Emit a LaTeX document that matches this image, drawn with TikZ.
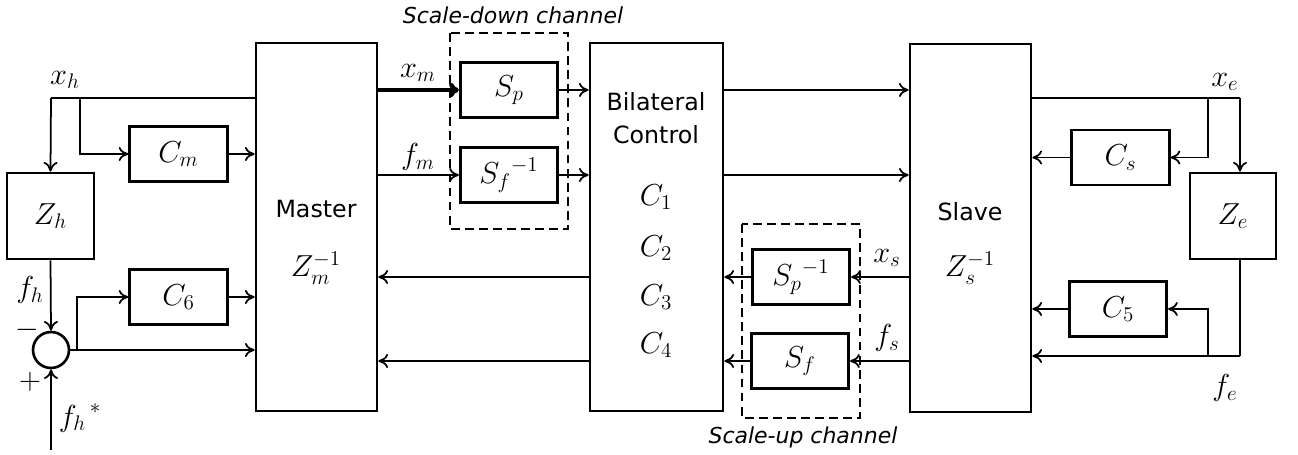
\documentclass[tikz,border=0pt]{standalone}
\usepackage{amsmath}
\usepackage{fontspec}
\setsansfont{DejaVu Sans}
\usetikzlibrary{arrows.meta, positioning}
\tikzstyle{bloque} = [draw, line width=1.6pt, rectangle, inner sep=0pt]
\tikzstyle{grande} = [bloque, minimum width=2.42cm, minimum height=7.36cm]
\tikzstyle{chico} = [bloque, minimum width=1.95cm, minimum height=1.1cm]
\tikzstyle{suma} = [draw, circle, line width=1.5pt, minimum size=0.72cm, inner sep=0pt]
\tikzstyle{canal} = [draw, dashed, line width=1.2pt, dash pattern=on 5pt off 3pt]
\tikzstyle{linea} = [line width=1pt]
\tikzstyle{flecha} = [->, line width=1pt]
\tikzstyle{texto} = [font=\fontsize{13.5}{15}\selectfont\sffamily]
\tikzstyle{etiqueta} = [font=\fontsize{12.5}{14}\selectfont\sffamily\itshape]

\begin{document}
\begin{tikzpicture}[x=0.02cm, y=-0.02cm, font=\fontsize{18}{20}\selectfont, >={To[length=5.5pt,width=8pt]}]
	\useasboundingbox (0,0) rectangle (1298,455);
	% bloques grandes
	\node[grande] (master) at (316.5,227) {};
	\node[grande, minimum width=2.66cm] (bilat) at (656.5,227) {};
	\node[grande] (slave) at (970.5,228) {};
	\node[texto] (mastertxt) at (316,209) {Master};
	\node (zm) at (316,268) {$Z_m^{-1}$};
	\node[texto] (bilattxt) at (656,102) {Bilateral};
	\node[texto] (controltxt) at (656,135) {Control};
	\foreach \i/\y in {1/197,2/248,3/297,4/345}
		\node (c\i) at (656,\y) {$C_\i$};
	\node[texto] (slavetxt) at (970,212) {Slave};
	\node (zs) at (970,268) {$Z_s^{-1}$};
	% lado del operador
	\node[bloque, minimum width=1.74cm, minimum height=1.72cm] (zh) at (50.5,216) {$Z_h$};
	\node[chico] (cm) at (178.5,154) {$C_m$};
	\node[chico] (c6) at (178.5,297) {$C_6$};
	\node[suma] (sum) at (51,350) {};
	\coordinate (xh) at (51,98);
	\coordinate (xhb) at (80,98);
	\coordinate (sumb) at (77,350);
	\coordinate (fhs) at (51,450);
	\draw[linea] (xh) -- (xh -| master.west);
	\draw[flecha] (xh) -- (zh.north);
	\draw[flecha] (xhb) |- (cm.west);
	\draw[flecha] (cm.east) -- (cm.east -| master.west);
	\draw[flecha] (zh.south) -- (sum.north);
	\draw[flecha] (fhs) -- (sum.south);
	\draw[flecha] (sum.east) -- (sum.east -| master.west);
	\draw[flecha] (sumb) |- (c6.west);
	\draw[flecha] (c6.east) -- (c6.east -| master.west);
	\node (lxh) at (65,80) {$x_h$};
	\node (lfh) at (30,290) {$f_h$};
	\node (menos) at (27,330) {$-$};
	\node (mas) at (30,382) {$+$};
	\node (lfhs) at (80,418) {${f_h}^{\,*}$};
	% canal de bajada
	\node[chico] (sp) at (509,90) {$S_p$};
	\node[chico] (sfi) at (509,175) {${S_f}^{-1}$};
	\draw[canal] (450,33) rectangle (568,229);
	\node[etiqueta] (lbaja) at (513,15) {Scale-down channel};
	\draw[flecha, line width=2.5pt] (master.east |- sp.west) -- (sp.west);
	\draw[flecha] (sp.east) -- (sp.east -| bilat.west);
	\draw[flecha] (master.east |- sfi.west) -- (sfi.west);
	\draw[flecha] (sfi.east) -- (sfi.east -| bilat.west);
	\draw[flecha] (bilat.east |- sp.east) -- (slave.west |- sp.east);
	\draw[flecha] (bilat.east |- sfi.east) -- (slave.west |- sfi.east);
	\node (lxm) at (418,73) {$x_m$};
	\node (lfm) at (418,157) {$f_m$};
	% canal de subida
	\node[chico] (spi) at (801,277) {${S_p}^{-1}$};
	\node[chico] (sf) at (800,361) {$S_f$};
	\draw[canal] (742,224) rectangle (860,418);
	\node[etiqueta] (lsube) at (803,437) {Scale-up channel};
	\draw[flecha] (slave.west |- spi.east) -- (spi.east);
	\draw[flecha] (spi.west) -- (spi.west -| bilat.east);
	\draw[flecha] (bilat.west |- spi.west) -- (master.east |- spi.west);
	\draw[flecha] (slave.west |- sf.east) -- (sf.east);
	\draw[flecha] (sf.west) -- (sf.west -| bilat.east);
	\draw[flecha] (bilat.west |- sf.west) -- (master.east |- sf.west);
	\node (lxs) at (887,258) {$x_s$};
	\node (lfs) at (887,338) {$f_s$};
	% lado del entorno
	\node[chico] (cs) at (1120.5,157.5) {$C_s$};
	\node[chico] (c5) at (1118,309) {$C_5$};
	\node[bloque, minimum width=1.72cm, minimum height=1.72cm] (ze) at (1233,216) {$Z_e$};
	\coordinate (xe) at (1240,98);
	\coordinate (xeb) at (1208,98);
	\coordinate (fe) at (1240,356);
	\coordinate (feb) at (1208,356);
	\draw[linea] (slave.east |- xe) -- (xe);
	\draw[flecha] (xe) -- (xe |- ze.north);
	\draw[flecha] (xeb) |- (cs.east);
	\draw[flecha] (cs.west) -- (cs.west -| slave.east);
	\draw[linea] (xe |- ze.south) -- (fe);
	\draw[flecha] (fe) -- (fe -| slave.east);
	\draw[flecha] (feb) |- (c5.east);
	\draw[flecha] (c5.west) -- (c5.west -| slave.east);
	\node (lxe) at (1225,82) {$x_e$};
	\node (lfe) at (1225,388) {$f_e$};
\end{tikzpicture}
\end{document}
